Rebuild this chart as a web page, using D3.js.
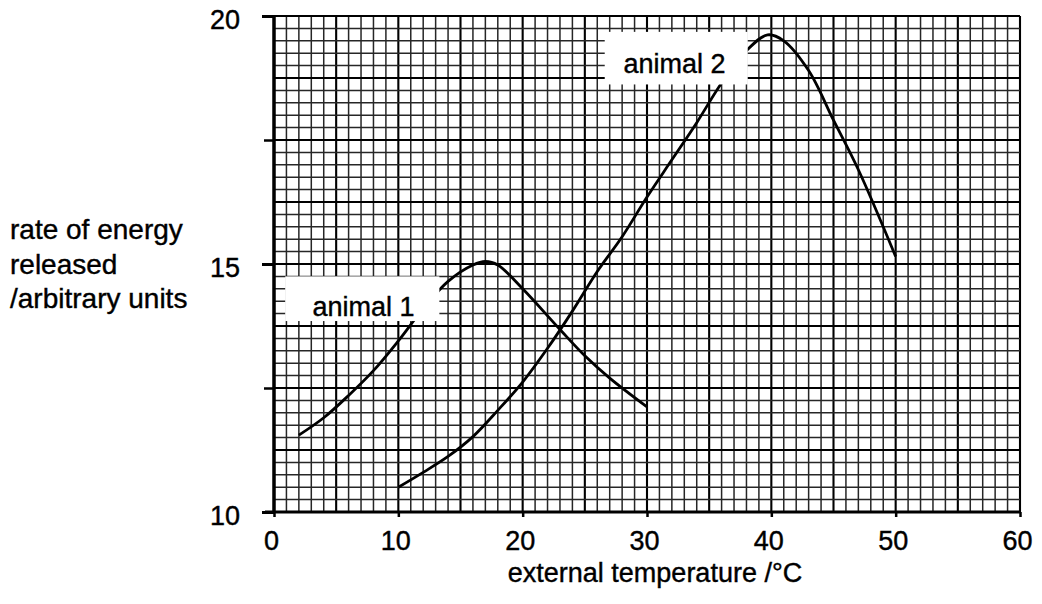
<!DOCTYPE html>
<html>
<head>
<meta charset="utf-8">
<script src="https://cdn.jsdelivr.net/npm/d3@7"></script>
<style>
  body { margin: 0; background: #fff; }
  svg text { font-family: "Liberation Sans", Arial, sans-serif; fill: #000; stroke: #000; stroke-width: 0.4px; }
</style>
</head>
<body>
<div id="chart"></div>
<script>
// values
const animal1Temp = [2, 4, 6, 8, 10, 12, 14, 16, 17, 18, 20, 23, 25, 27, 30];
const animal1Rate = [11.55, 11.9, 12.35, 12.85, 13.45, 14.1, 14.65, 14.98, 15.05, 14.98, 14.5, 13.68, 13.15, 12.7, 12.12];

const animal2Temp = [10, 12, 14, 16, 18, 20, 22, 24, 26, 28, 30, 32, 34, 36, 38, 39.7, 41, 43, 45, 47, 50];
const animal2Rate = [10.5, 10.8, 11.12, 11.52, 12.05, 12.62, 13.3, 14.05, 14.85, 15.55, 16.35, 17.1, 17.85, 18.65, 19.3, 19.62, 19.5, 18.9, 17.9, 16.9, 15.15];

const xTicks = [0, 10, 20, 30, 40, 50, 60];
const yTicks = [10, 15, 20];
const yMinorTicks = [12.5, 17.5];

const seriesLabels = ["animal 1", "animal 2"];
const yTitle = ["rate of energy", "released", "/arbitrary units"];
const xTitle = "external temperature /°C";

const W = 1042, H = 604;
const margin = { top: 16, right: 22, bottom: 92, left: 274 };

const svg = d3.select("#chart").append("svg")
    .attr("width", W)
    .attr("height", H);

const x = d3.scaleLinear()
    .domain([0, 60])
    .range([margin.left, W - margin.right]);

const y = d3.scaleLinear()
    .domain([10, 20])
    .range([H - margin.bottom, margin.top]);

// graph paper: 1 unit across, 0.25 units up, a bit heavier every 5 squares
const grid = svg.append("g");
d3.range(0, 61, 1).forEach(v => {
  const major = v % 5 === 0;
  grid.append("line")
      .attr("x1", x(v)).attr("x2", x(v))
      .attr("y1", y(10)).attr("y2", y(20))
      .attr("stroke", major ? "#000" : "#262626")
      .attr("stroke-width", major ? 2.1 : 1.5);
});
d3.range(0, 41, 1).forEach(i => {
  const v = 10 + i * 0.25;
  const major = i % 5 === 0;
  grid.append("line")
      .attr("x1", x(0)).attr("x2", x(60))
      .attr("y1", y(v)).attr("y2", y(v))
      .attr("stroke", major ? "#000" : "#262626")
      .attr("stroke-width", major ? 2.1 : 1.5);
});

// curves
const line = d3.line()
    .x(d => x(d[0]))
    .y(d => y(d[1]))
    .curve(d3.curveCatmullRom.alpha(0.5));

const a1 = animal1Temp.map((t, i) => [t, animal1Rate[i]]);
const a2 = animal2Temp.map((t, i) => [t, animal2Rate[i]]);

[a1, a2].forEach(pts => {
  svg.append("path")
      .datum(pts)
      .attr("d", line)
      .attr("fill", "none")
      .attr("stroke", "#000")
      .attr("stroke-width", 2.8);
});

// label boxes sit on top of the paper and the curves
const labelBoxes = [
  { x0: 0.9, x1: 13.3, y0: 14.75, y1: 13.85, tx: 3.1, ty: 13.95 },
  { x0: 26.6, x1: 38.1, y0: 19.68, y1: 18.62, tx: 28.1, ty: 18.85 }
];
labelBoxes.forEach((b, i) => {
  svg.append("rect")
      .attr("x", x(b.x0)).attr("y", y(b.y0))
      .attr("width", x(b.x1) - x(b.x0))
      .attr("height", y(b.y1) - y(b.y0))
      .attr("fill", "#fff");
  svg.append("text")
      .attr("x", x(b.tx)).attr("y", y(b.ty))
      .attr("font-size", 27)
      .text(seriesLabels[i]);
});

// axes
const xAxis = svg.append("g")
    .attr("transform", `translate(0,${y(10)})`)
    .call(d3.axisBottom(x).tickValues(xTicks).tickSize(5).tickPadding(14).tickSizeOuter(0));
xAxis.select(".domain").remove();
xAxis.append("line")
    .attr("x1", margin.left - 9).attr("x2", x(60))
    .attr("stroke", "#000").attr("stroke-width", 3);
xAxis.selectAll(".tick line").attr("stroke", "#000").attr("stroke-width", 2.5);
xAxis.selectAll(".tick text")
    .attr("font-size", 27)
    .attr("dx", -3)
    .attr("fill", "#000")
    .style("font-family", "'Liberation Sans', Arial, sans-serif");

// unlabelled half-way ticks on the y axis
svg.append("g")
    .attr("transform", `translate(${x(0)},0)`)
    .call(d3.axisLeft(y).tickValues(yMinorTicks).tickSize(10).tickFormat(""))
    .call(g => g.select(".domain").remove())
    .call(g => g.selectAll(".tick line").attr("stroke", "#000").attr("stroke-width", 2.5));

const yAxis = svg.append("g")
    .attr("transform", `translate(${x(0)},0)`)
    .call(d3.axisLeft(y).tickValues(yTicks).tickSize(12).tickPadding(22).tickSizeOuter(0));
yAxis.select(".domain").remove();
yAxis.append("line")
    .attr("y1", y(20)).attr("y2", y(10))
    .attr("stroke", "#000").attr("stroke-width", 3.5);
yAxis.selectAll(".tick line").attr("stroke", "#000").attr("stroke-width", 3);
yAxis.selectAll(".tick text")
    .attr("font-size", 27)
    .attr("dy", "0.45em")
    .attr("fill", "#000")
    .style("font-family", "'Liberation Sans', Arial, sans-serif");

// titles
svg.append("text")
    .attr("x", 655).attr("y", 582)
    .attr("text-anchor", "middle")
    .attr("font-size", 27)
    .text(xTitle);

yTitle.forEach((t, i) => {
  svg.append("text")
      .attr("x", 10).attr("y", 239 + i * 34.5)
      .attr("font-size", 28)
      .text(t);
});
</script>
</body>
</html>
